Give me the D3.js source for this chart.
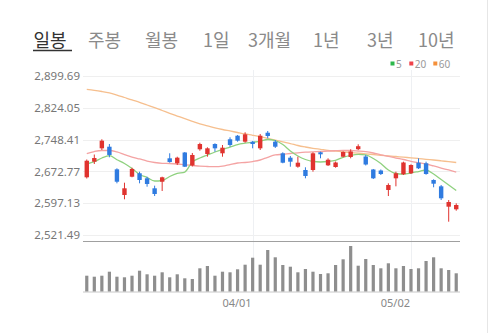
<!DOCTYPE html>
<html><head><meta charset="utf-8">
<script src="https://cdn.jsdelivr.net/npm/d3@7"></script>
<style>
html,body{margin:0;padding:0;background:#fff;}
svg{display:block;}
</style></head>
<body>
<svg id="c" width="500" height="333"></svg>
<script>
// ---- data ----
const tabs = ["일봉","주봉","월봉","1일","3개월","1년","3년","10년"];
const dates = ["02/28","03/02","03/03","03/04","03/07","03/08","03/10","03/11","03/14","03/15","03/16","03/17","03/18","03/21","03/22","03/23","03/24","03/25","03/28","03/29","03/30","03/31","04/01","04/04","04/05","04/06","04/07","04/08","04/11","04/12","04/13","04/14","04/15","04/18","04/19","04/20","04/21","04/22","04/25","04/26","04/27","04/28","04/29","05/02","05/03","05/04","05/06","05/09","05/10","05/11"];
const xLabels = ["04/01","05/02"];
const yTicks = [2521.49, 2597.13, 2672.77, 2748.41, 2824.05, 2899.69];
const open  = [2658.8,2695.8,2727.5,2731.3,2677.7,2616.8,2660.2,2668.3,2656.4,2632.7,2648.3,2703.8,2692.0,2717.6,2686.8,2725.2,2714.0,2737.7,2715.7,2748.9,2757.4,2743.2,2743.2,2727.5,2764.5,2743.2,2715.7,2705.3,2683.9,2676.1,2676.1,2718.1,2687.2,2683.2,2707.6,2706.9,2725.4,2708.1,2677.3,2674.9,2628.7,2656.4,2665.9,2668.3,2693.4,2692.0,2652.4,2637.4,2589.1,2582.9];
const close = [2698.1,2704.5,2745.6,2711.7,2648.3,2632.7,2678.5,2652.4,2642.9,2619.2,2658.8,2695.1,2705.3,2683.9,2711.7,2737.7,2727.5,2727.5,2729.0,2735.4,2745.6,2760.7,2737.7,2757.4,2756.7,2731.3,2693.4,2695.8,2693.4,2661.9,2715.7,2713.3,2700.5,2693.9,2718.8,2720.0,2732.5,2689.1,2656.4,2666.6,2640.5,2668.3,2693.9,2687.9,2680.1,2666.6,2643.6,2609.0,2600.2,2593.1];
const high  = [2701.0,2712.8,2748.9,2737.7,2680.1,2646.0,2681.5,2672.1,2660.2,2638.9,2660.2,2715.7,2707.6,2718.8,2716.4,2740.8,2729.9,2739.4,2735.4,2753.6,2759.1,2765.5,2744.9,2761.5,2768.6,2747.2,2718.1,2709.3,2707.6,2682.5,2718.1,2719.5,2703.8,2696.2,2720.4,2725.2,2737.0,2711.7,2678.5,2677.3,2644.5,2672.1,2695.8,2689.6,2703.8,2695.8,2654.0,2640.5,2604.9,2597.1];
const low   = [2655.9,2690.3,2723.5,2706.2,2644.5,2606.6,2658.8,2644.5,2636.5,2614.4,2626.3,2693.4,2687.9,2683.2,2684.4,2721.8,2707.6,2719.5,2707.6,2731.3,2743.2,2740.8,2727.5,2723.5,2751.3,2728.3,2692.0,2683.9,2681.5,2656.4,2672.1,2703.8,2685.6,2681.5,2706.2,2703.8,2723.5,2686.8,2654.7,2664.2,2614.4,2637.4,2664.2,2666.6,2678.5,2664.9,2635.1,2604.9,2553.5,2579.6];
const ma5   = [2690.3,2695.8,2704.5,2710.0,2700.5,2691.5,2679.6,2665.4,2658.3,2650.0,2651.2,2660.7,2667.8,2671.3,2695.1,2704.5,2711.7,2718.8,2725.2,2730.6,2736.5,2739.6,2741.8,2744.1,2748.4,2746.0,2736.5,2721.1,2709.3,2701.0,2696.2,2695.1,2696.2,2699.1,2706.2,2710.9,2713.3,2711.7,2703.3,2691.5,2676.1,2667.8,2666.6,2669.0,2672.5,2676.1,2666.6,2653.6,2640.5,2627.5];
const ma20  = [2715.2,2719.9,2722.3,2722.3,2718.8,2712.8,2706.9,2702.2,2697.4,2693.9,2691.9,2691.5,2690.3,2688.4,2686.8,2685.1,2684.4,2683.9,2685.1,2689.1,2692.7,2693.9,2696.2,2699.8,2706.2,2711.7,2713.3,2715.2,2716.9,2718.3,2719.2,2719.9,2721.1,2721.8,2722.3,2722.3,2721.1,2719.5,2716.4,2712.1,2708.6,2704.5,2701.0,2696.7,2693.4,2690.3,2685.6,2680.8,2676.1,2671.3];
const ma60  = [2867.4,2865.1,2862.2,2858.7,2853.9,2848.0,2842.1,2836.6,2830.2,2823.8,2817.2,2810.5,2804.1,2797.7,2791.6,2785.6,2780.9,2776.1,2772.1,2768.6,2765.0,2761.5,2758.4,2755.1,2751.3,2747.2,2742.9,2738.9,2734.2,2730.6,2727.5,2725.2,2722.8,2721.1,2719.2,2717.6,2715.9,2714.5,2712.8,2711.1,2709.7,2708.1,2706.4,2705.0,2703.3,2701.4,2699.8,2697.9,2695.8,2693.9];
const volume = [320,300,320,400,300,288,320,420,348,320,388,288,348,268,254,468,514,320,400,388,448,540,680,540,834,688,534,500,388,454,400,354,368,534,648,914,520,654,534,468,568,468,514,454,468,614,688,468,434,368];
const maNames = ["5","20","60"];

// ---- drawing ----
const svg = d3.select("#c");
const UP = "#e0332f", DOWN = "#2f7be0";
const maColors = ["#8fd17f","#f4a3a3","#f6bf8e"];
const legendColors = ["#2db84a","#f0434a","#f5903a"];

// right border
svg.append("line").attr("x1",487.5).attr("x2",487.5).attr("y1",0).attr("y2",333)
  .attr("stroke","#e6e6e6");

// tabs
const tabX = [33.5, 88, 145, 203, 248, 313, 367, 418];
svg.selectAll("text.tab").data(tabs).join("text")
  .attr("class","tab")
  .attr("x",(d,i)=>tabX[i]).attr("y",47)
  .attr("font-family","'Noto Sans CJK KR', sans-serif")
  .attr("font-size",18)
  .attr("fill",(d,i)=> i===0 ? "#333" : "#8a8a8a")
  .text(d=>d);
svg.append("line").attr("x1",33).attr("x2",72).attr("y1",50.5).attr("y2",50.5)
  .attr("stroke","#333").attr("stroke-width",1.5);

// scales
const x = d3.scaleBand().domain(dates).range([83, 460]).padding(0);
const cx = d => x(d) + x.bandwidth()/2;
const y = d3.scaleLinear().domain([2521.49, 2899.69]).range([235.2, 75.7]);
const yv = d3.scaleLinear().domain([0, 1000]).range([291.7, 241.7]);

// horizontal gridlines
svg.append("g").selectAll("line").data(yTicks).join("line")
  .attr("x1",83).attr("x2",460)
  .attr("y1",d=>Math.round(y(d))+0.5).attr("y2",d=>Math.round(y(d))+0.5)
  .attr("stroke","#efefef");

// vertical gridlines
svg.append("g").selectAll("line").data(xLabels).join("line")
  .attr("x1",d=>Math.round(cx(d))+0.5).attr("x2",d=>Math.round(cx(d))+0.5)
  .attr("y1",70).attr("y2",292)
  .attr("stroke","#eef0f3");

// y axis labels
const yAxis = d3.axisLeft(y).tickValues(yTicks).tickFormat(d3.format(",.2f"))
  .tickSize(0).tickPadding(3);
const gy = svg.append("g").attr("transform","translate(83,0)").call(yAxis);
gy.select(".domain").remove();
gy.selectAll("text").attr("font-family","'Noto Sans', sans-serif")
  .attr("font-size",11.5).attr("fill","#777");

// bottom axis line of price chart
svg.append("line").attr("x1",83).attr("x2",460).attr("y1",241.5).attr("y2",241.5)
  .attr("stroke","#a0a0a0").attr("stroke-width",1);

// MA lines
const mas = [ma60, ma20, ma5];
const mc = [maColors[2], maColors[1], maColors[0]];
mas.forEach((m,k)=>{
  svg.append("path").datum(m)
    .attr("fill","none").attr("stroke",mc[k]).attr("stroke-width",1.3)
    .attr("d", d3.line().x((v,i)=>cx(dates[i])).y(v=>y(v)).curve(d3.curveMonotoneX));
});

// candles
const idx = d3.range(dates.length);
const cg = svg.append("g");
cg.selectAll("line").data(idx).join("line")
  .attr("x1",i=>cx(dates[i])).attr("x2",i=>cx(dates[i]))
  .attr("y1",i=>y(high[i])).attr("y2",i=>y(low[i]))
  .attr("stroke",i=>close[i]>=open[i]?UP:DOWN).attr("stroke-width",1);
cg.selectAll("rect").data(idx).join("rect")
  .attr("x",i=>cx(dates[i])-2.2).attr("width",4.4)
  .attr("y",i=>y(Math.max(open[i],close[i])))
  .attr("height",i=>Math.max(1,Math.abs(y(open[i])-y(close[i]))))
  .attr("fill",i=>close[i]>=open[i]?UP:DOWN);

// volume bars
svg.append("g").selectAll("rect").data(idx).join("rect")
  .attr("x",i=>cx(dates[i])-1.6).attr("width",3.2)
  .attr("y",i=>yv(volume[i])).attr("height",i=>yv(0)-yv(volume[i]))
  .attr("fill","#8e8e8e");
svg.append("line").attr("x1",83).attr("x2",460).attr("y1",292).attr("y2",292)
  .attr("stroke","#c8c8c8");

// x labels
svg.append("g").selectAll("text").data(xLabels).join("text")
  .attr("x",d=>cx(d)-1).attr("y",307)
  .attr("text-anchor","end")
  .attr("font-family","'Noto Sans', sans-serif").attr("font-size",11)
  .attr("fill","#888").text(d=>d);

// legend
const legX = [390.5, 409.3, 433.3];
const lg = svg.append("g");
maNames.forEach((n,i)=>{
  lg.append("rect").attr("x",legX[i]).attr("y",61.5).attr("width",4).attr("height",4)
    .attr("fill",legendColors[i]);
  lg.append("text").attr("x",legX[i]+5.5).attr("y",67.5)
    .attr("font-family","'Noto Sans', sans-serif").attr("font-size",10)
    .attr("fill","#999").text(n);
});
</script>
</body></html>
